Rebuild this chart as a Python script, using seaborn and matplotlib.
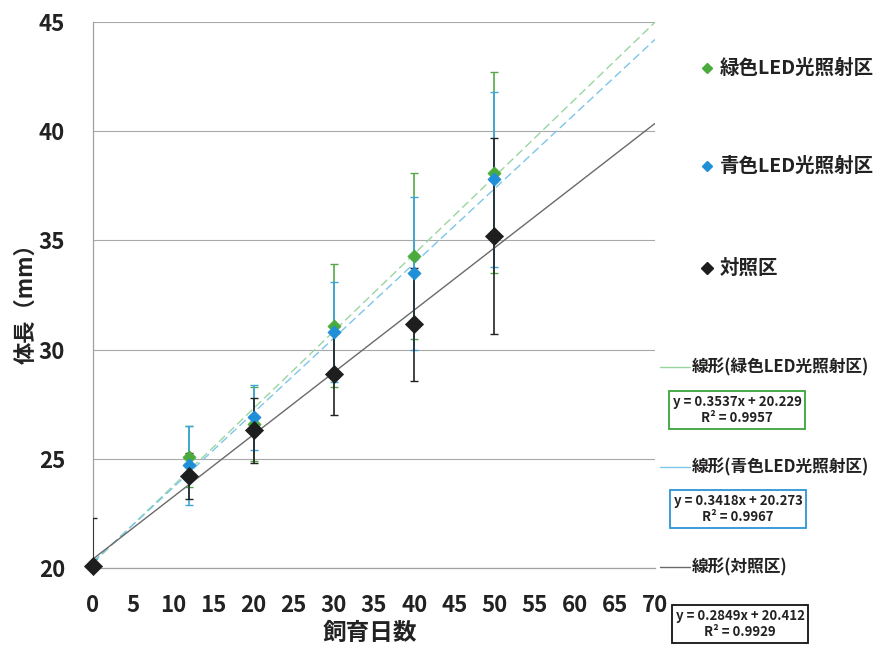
import numpy as np
import pandas as pd
import matplotlib
matplotlib.use("Agg")
import matplotlib.pyplot as plt
from matplotlib.lines import Line2D
import seaborn as sns

# ---- data ----
days = [0, 12, 20, 30, 40, 50]
green_mean = [20.1, 25.1, 26.6, 31.1, 34.3, 38.1]
green_err = [0.3, 1.4, 1.7, 2.8, 3.8, 4.6]
blue_mean = [20.1, 24.7, 26.9, 30.8, 33.5, 37.8]
blue_err = [0.3, 1.8, 1.5, 2.3, 3.5, 4.0]
ctrl_mean = [20.1, 24.2, 26.3, 28.9, 31.15, 35.2]
ctrl_err = [2.2, 1.05, 1.5, 1.9, 2.6, 4.5]

series_names = ["緑色LED光照射区", "青色LED光照射区", "対照区"]
slopes = [0.3537, 0.3418, 0.2849]
intercepts = [20.229, 20.273, 20.412]
r2_values = [0.9957, 0.9967, 0.9929]
trend_x = [0, 70]
x_ticks = list(range(0, 75, 5))
y_ticks = [20, 25, 30, 35, 40, 45]

sns.set_style("white")
plt.rcParams['font.family'] = ['Noto Sans CJK JP', 'DejaVu Sans']

W, H = 884, 648
fig = plt.figure(figsize=(W / 100, H / 100), dpi=100)
ax = fig.add_axes([93 / W, 1 - 568 / H, (655 - 93) / W, (568 - 22) / H])

pt_col = ["#4aaa3c", "#1f8fd8", "#1e1e1e"]
err_col = ["#58a84a", "#3aa6e0", "#222222"]
trend_col = ["#98d6a0", "#7cc6ea", "#6a6a6a"]
trend_ls = [(0, (6, 3)), (0, (6, 3)), "-"]

# trend lines
for i in range(3):
    tx = np.array(trend_x, dtype=float)
    ty = slopes[i] * tx + intercepts[i]
    sns.lineplot(x=tx, y=ty, ax=ax, color=trend_col[i], lw=1.0,
                 linestyle=trend_ls[i], zorder=2)

means = [green_mean, blue_mean, ctrl_mean]
errs = [green_err, blue_err, ctrl_err]
for i in range(3):
    ax.errorbar(days, means[i], yerr=errs[i], fmt="none", ecolor=err_col[i],
                elinewidth=1.2, capsize=3, capthick=1.0, zorder=3)

msize = [45, 45, 85]
for i in range(3):
    df = pd.DataFrame({"x": days, "y": means[i]})
    sns.scatterplot(data=df, x="x", y="y", ax=ax, marker="D", s=msize[i],
                    color=pt_col[i], edgecolor=pt_col[i], linewidth=0.5,
                    zorder=5 + i, clip_on=False)

ax.set_xlim(0, 70)
ax.set_ylim(20, 45)
ax.set_xticks(x_ticks)
ax.set_yticks(y_ticks)
ax.set_xticklabels([str(v) for v in x_ticks])
ax.set_yticklabels([str(v) for v in y_ticks])
ax.grid(axis="y", color="#a8a8a8", lw=0.8)
ax.grid(axis="x", visible=False)
for s in ["top", "right"]:
    ax.spines[s].set_visible(False)
for s in ["left", "bottom"]:
    ax.spines[s].set_color("#a0a0a0")
    ax.spines[s].set_linewidth(0.9)
ax.tick_params(axis="x", direction="out", length=6, width=0.9, color="#a0a0a0",
               pad=13, labelsize=16)
ax.tick_params(axis="y", direction="out", length=8, width=0.9, color="#a0a0a0",
               pad=12, labelsize=16)
for lab in ax.get_xticklabels() + ax.get_yticklabels():
    lab.set_fontweight("bold")
    lab.set_color("#222222")
ax.set_xlabel("")
ax.set_ylabel("")

fig.text(370 / W, 1 - 633 / H, "飼育日数", ha="center", va="center",
         fontsize=17, fontweight="bold", color="#222222")
fig.text(26 / W, 1 - 298 / H, "体長（mm）", ha="center", va="center",
         rotation=90, fontsize=16, fontweight="bold", color="#222222")

# legend (manual)
leg_y = [68, 166, 268]
leg_ms = [5, 5, 6.5]
for i in range(3):
    fig.add_artist(Line2D([707 / W], [1 - leg_y[i] / H], marker="D", color=pt_col[i],
                          markersize=leg_ms[i], linestyle="none"))
    fig.text(720 / W, 1 - leg_y[i] / H, series_names[i], ha="left", va="center",
             fontsize=14, fontweight="bold", color="#222222")

lin_y = [367, 467, 567]
box_y = [410, 509, 624]
box_x = [737, 738, 740]
box_col = ["#3aa43a", "#2c95d8", "#111111"]
for i in range(3):
    fig.add_artist(Line2D([660 / W, 690 / W], [1 - lin_y[i] / H, 1 - lin_y[i] / H],
                          color=trend_col[i], lw=1.0))
    fig.text(692 / W, 1 - lin_y[i] / H, "線形(" + series_names[i] + ")", ha="left",
             va="center", fontsize=12, fontweight="bold", color="#222222")
    eq = "y = {:.4f}x + {:.3f}\nR² = {:.4f}".format(slopes[i], intercepts[i], r2_values[i])
    fig.text(box_x[i] / W, 1 - box_y[i] / H, eq, ha="center", va="center",
             fontsize=9.5, fontweight="bold", color="#222222", linespacing=1.15,
             multialignment="center",
             bbox=dict(boxstyle="square,pad=0.3", fc="white", ec=box_col[i], lw=1.3))

fig.savefig("out.png", dpi=100)
